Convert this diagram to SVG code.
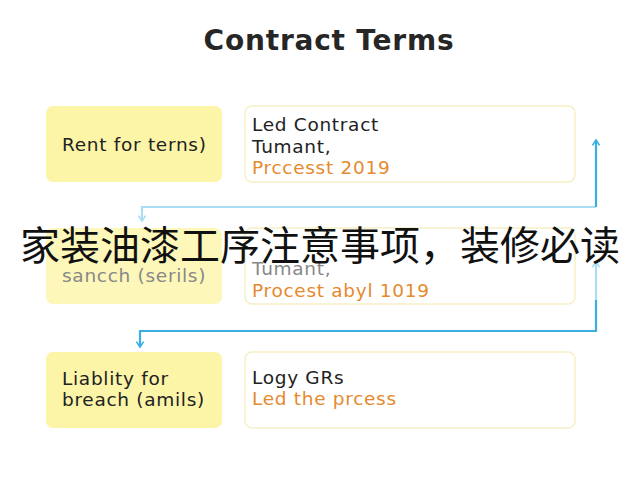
<svg xmlns="http://www.w3.org/2000/svg" width="640" height="480" viewBox="0 0 640 480">
<defs>
<style>
.t{font-family:"DejaVu Sans","Liberation Sans",sans-serif;font-size:18.5px;letter-spacing:0.7px;fill:#222}
.o{fill:#E58A2E}
.g{fill:#888}
.lbox{fill:#FCF5A8}
.rbox{fill:#fff;stroke:#F7EFC8;stroke-width:1.5}
.c{fill:none;stroke-width:2.2}
</style>
<marker id="ad" viewBox="0 0 10 10" refX="8" refY="5" markerWidth="9" markerHeight="9" orient="auto" markerUnits="userSpaceOnUse">
<path d="M2,1 L8,5 L2,9" fill="none" stroke="#3BB0DE" stroke-width="1.8"/>
</marker>
<marker id="adl" viewBox="0 0 10 10" refX="8" refY="5" markerWidth="9" markerHeight="9" orient="auto" markerUnits="userSpaceOnUse">
<path d="M2,1 L8,5 L2,9" fill="none" stroke="#A9DDF2" stroke-width="1.8"/>
</marker>
</defs>
<rect width="640" height="480" fill="#fff"/>
<text x="329" y="50" text-anchor="middle" font-family="'DejaVu Sans','Liberation Sans',sans-serif" font-size="28" letter-spacing="0.8" font-weight="bold" fill="#262626">Contract Terms</text>

<g id="connectors">
<path class="c" stroke="#A9DDF2" d="M596,207 H142 V221" marker-end="url(#adl)"/>
<path class="c" stroke="#3BB0DE" d="M596,207 V140" marker-end="url(#ad)"/>
<path class="c" stroke="#A9DDF2" d="M596,300 V262" marker-end="url(#adl)"/>
<path class="c" stroke="#3BB0DE" d="M596,300 V331 H140 V347" marker-end="url(#ad)"/>
</g>

<g id="n1">
<rect class="lbox" x="46" y="106" width="176" height="76" rx="7"/>
<text class="t" x="62" y="151">Rent for terns)</text>
</g>
<g id="n2">
<rect class="rbox" x="245" y="106" width="330" height="76" rx="7"/>
<text class="t" x="252" y="131">Led Contract</text>
<text class="t" x="252" y="153">Tumant,</text>
<text class="t o" x="252" y="174">Prccesst 2019</text>
</g>
<g id="n3">
<rect class="lbox" x="46" y="228" width="176" height="76" rx="7" opacity="0.8"/>
<text class="t g" x="62" y="282">sancch (serils)</text>
</g>
<g id="n4">
<rect class="rbox" x="245" y="228" width="330" height="76" rx="7"/>
<text class="t g" x="252" y="275">Tumant,</text>
<text class="t o" x="252" y="297">Procest abyl 1019</text>
</g>
<g id="n5">
<rect class="lbox" x="46" y="352" width="176" height="76" rx="7"/>
<text class="t" x="62" y="385">Liablity for</text>
<text class="t" x="62" y="406">breach (amils)</text>
</g>
<g id="n6">
<rect class="rbox" x="245" y="352" width="330" height="76" rx="7"/>
<text class="t" x="252" y="384">Logy GRs</text>
<text class="t o" x="252" y="405">Led the prcess</text>
</g>

<text x="320" y="260" text-anchor="middle" font-family="'Noto Sans CJK SC',sans-serif" font-size="40" fill="#111">家装油漆工序注意事项，装修必读</text>
</svg>
